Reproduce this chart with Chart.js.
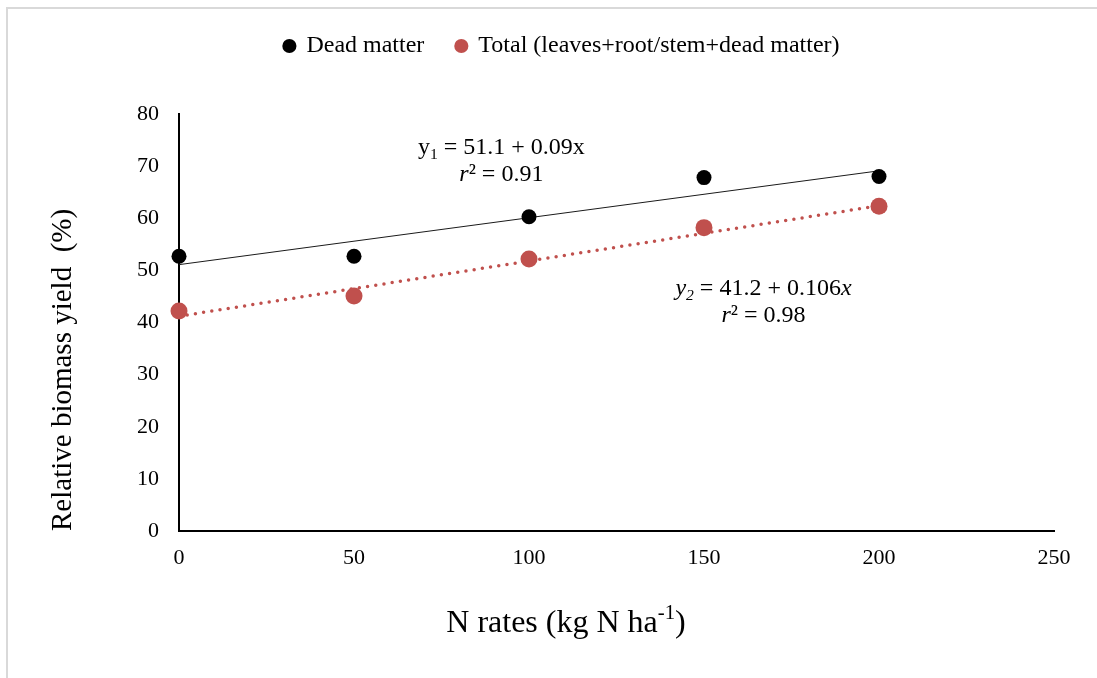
<!DOCTYPE html>
<html>
<head>
<meta charset="utf-8">
<title>Relative biomass yield</title>
<script src="https://cdn.jsdelivr.net/npm/chart.js@4.4.1/dist/chart.umd.min.js"></script>
<style>
  body { margin: 0; background: #fff; }
  canvas { display: block; }
</style>
</head>
<body>
<canvas id="chart" width="1097" height="678"></canvas>
<script>
// values
const nRates = [0, 50, 100, 150, 200];
const deadMatter = [52.7, 52.7, 60.3, 67.8, 68.0];
const totalYield = [42.2, 45.1, 52.2, 58.2, 62.3];

// fitted lines as printed on the chart: [intercept, slope]
const deadFit = [51.1, 0.09];
const totalFit = [41.2, 0.106];
const fitRange = [0, 200];

const seriesNames = ['Dead matter', 'Total (leaves+root/stem+dead matter)'];

const SERIF = "'Liberation Serif', 'Times New Roman', serif";
Chart.defaults.font.family = SERIF;
Chart.defaults.color = '#000';

function toPoints(xs, ys) {
    return xs.map((x, i) => ({ x: x, y: ys[i] }));
}

function fitLine(coef) {
    return fitRange.map(x => ({ x: x, y: coef[0] + coef[1] * x }));
}

// draws a line of text made of runs (italic / sub / sup), centred on cx
function richText(ctx, runs, cx, baseY, size) {
    const pieces = runs.map(r => {
        const s = (r.sub || r.sup) ? size * 0.65 : size;
        const font = (r.it ? 'italic ' : '') + s + 'px ' + SERIF;
        ctx.font = font;
        return {
            text: r.t,
            font: font,
            w: ctx.measureText(r.t).width,
            dy: r.sub ? size * 0.2 : (r.sup ? -size * 0.4 : 0)
        };
    });
    const total = pieces.reduce((a, p) => a + p.w, 0);
    let x = cx - total / 2;
    ctx.textAlign = 'left';
    ctx.textBaseline = 'alphabetic';
    ctx.fillStyle = '#000';
    pieces.forEach(p => {
        ctx.font = p.font;
        ctx.fillText(p.text, x, baseY + p.dy);
        x += p.w;
    });
}

const labelsPlugin = {
    id: 'labels',
    beforeDraw(chart) {
        const ctx = chart.ctx;
        ctx.save();
        ctx.fillStyle = '#d9d9d9';
        ctx.fillRect(6, 7, 2, chart.height);
        ctx.fillRect(6, 7, chart.width, 2);
        ctx.restore();
    },
    afterDraw(chart) {
        const ctx = chart.ctx;
        const xs = chart.scales.x, ys = chart.scales.y;
        ctx.save();
        // equation for dead matter
        let cx = xs.getPixelForValue(92.1), by = ys.getPixelForValue(72.3);
        richText(ctx, [{ t: 'y' }, { t: '1', sub: true }, { t: ' = 51.1 + 0.09x' }], cx, by, 24);
        richText(ctx, [{ t: 'r', it: true }, { t: '\u00b2' }, { t: ' = 0.91' }], cx, by + 26.5, 24);
        // equation for total
        cx = xs.getPixelForValue(167);
        by = ys.getPixelForValue(45.3);
        richText(ctx, [{ t: 'y', it: true }, { t: '2', sub: true, it: true }, { t: ' = 41.2 + 0.106' }, { t: 'x', it: true }], cx, by, 24);
        richText(ctx, [{ t: 'r', it: true }, { t: '\u00b2' }, { t: ' = 0.98' }], cx, by + 27.5, 24);
        // x axis title with superscript
        richText(ctx, [{ t: 'N rates (kg N ha' }, { t: '-1', sup: true }, { t: ')' }], 566, 632, 32);
        ctx.restore();
    }
};

const ctx = document.getElementById('chart').getContext('2d');
new Chart(ctx, {
    type: 'scatter',
    data: {
        datasets: [{
            label: seriesNames[0],
            data: toPoints(nRates, deadMatter),
            backgroundColor: '#000000',
            borderColor: '#000000',
            borderWidth: 0,
            pointRadius: 7.5,
            clip: false,
            order: 0
        }, {
            label: seriesNames[1],
            data: toPoints(nRates, totalYield),
            backgroundColor: '#C0504D',
            borderColor: '#C0504D',
            borderWidth: 0,
            pointRadius: 8.5,
            clip: false,
            order: 0
        }, {
            label: 'fit dead',
            data: fitLine(deadFit),
            showLine: true,
            borderColor: '#1a1a1a',
            borderWidth: 1,
            pointRadius: 0,
            clip: false,
            order: 1
        }, {
            label: 'fit total',
            data: fitLine(totalFit),
            showLine: true,
            borderColor: '#C0504D',
            borderWidth: 3.5,
            borderDash: [0, 8.3],
            borderCapStyle: 'round',
            pointRadius: 0,
            clip: false,
            order: 1
        }]
    },
    options: {
        responsive: false,
        animation: false,
        layout: { padding: { left: 27, top: 2, right: 0, bottom: 0 } },
        plugins: {
            legend: {
                position: 'top',
                labels: {
                    usePointStyle: true,
                    pointStyle: 'circle',
                    boxWidth: 10,
                    boxHeight: 10,
                    padding: 32,
                    color: '#000',
                    font: { size: 24 },
                    filter: item => item.datasetIndex < 2
                }
            },
            tooltip: { enabled: false }
        },
        scales: {
            x: {
                type: 'linear',
                position: 'bottom',
                min: 0,
                max: 250,
                ticks: { stepSize: 50, padding: 14, font: { size: 22 }, color: '#000' },
                grid: { display: false, drawTicks: false },
                border: { color: '#000', width: 2 },
                afterFit: s => { s.height = 147; }
            },
            y: {
                type: 'linear',
                position: 'left',
                min: 0,
                max: 80,
                ticks: { stepSize: 10, padding: 20, font: { size: 22 }, color: '#000' },
                grid: { display: false, drawTicks: false },
                border: { color: '#000', width: 2 },
                title: {
                    display: true,
                    text: 'Relative biomass yield  (%)',
                    align: 'start',
                    color: '#000',
                    font: { size: 29 },
                    padding: { top: 19, bottom: 0 }
                },
                afterFit: s => { s.width = 152; }
            },
            topGap: {
                type: 'linear',
                axis: 'x',
                position: 'top',
                ticks: { display: false },
                grid: { display: false, drawTicks: false },
                border: { display: false },
                afterFit: s => { s.height = 46; }
            },
            rightGap: {
                type: 'linear',
                axis: 'y',
                position: 'right',
                ticks: { display: false },
                grid: { display: false, drawTicks: false },
                border: { display: false },
                afterFit: s => { s.width = 43; }
            }
        }
    },
    plugins: [labelsPlugin]
});
</script>
</body>
</html>
